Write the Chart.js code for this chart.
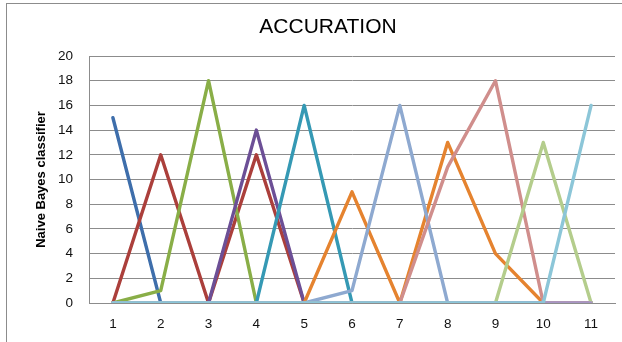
<!DOCTYPE html>
<html>
<head>
<meta charset="utf-8">
<script src="https://cdn.jsdelivr.net/npm/chart.js@4"></script>
<style>
  html, body { margin: 0; padding: 0; background: #fff; overflow: hidden; }
  #wrap { position: relative; width: 622px; height: 342px; overflow: hidden; }
  #frame { position: absolute; left: 6px; top: 3px; width: 700px; height: 400px;
           border: 1px solid #8c8c8c; box-sizing: border-box; }
  canvas { position: absolute; left: 0; top: 0; }
</style>
</head>
<body>
<div id="wrap">
  <div id="frame"></div>
  <canvas id="chart" width="622" height="342"></canvas>
</div>
<script>
// Categories on the x axis
const categories = ['1', '2', '3', '4', '5', '6', '7', '8', '9', '10', '11'];

// One series per classifier run
const series1  = [15, 0, 0, 0, 0, 0, 0, 0, 0, 0, 0];
const series2  = [0, 12, 0, 12, 0, 0, 0, 0, 0, 0, 0];
const series3  = [0, 1, 18, 0, 0, 0, 0, 0, 0, 0, 0];
const series4  = [0, 0, 0, 14, 0, 0, 0, 0, 0, 0, 0];
const series5  = [0, 0, 0, 0, 16, 0, 0, 0, 0, 0, 0];
const series6  = [0, 0, 0, 0, 0, 9, 0, 13, 4, 0, 0];
const series7  = [0, 0, 0, 0, 0, 1, 16, 0, 0, 0, 0];
const series8  = [0, 0, 0, 0, 0, 0, 0, 11, 18, 0, 0];
const series9  = [0, 0, 0, 0, 0, 0, 0, 0, 0, 13, 0];
const series10 = [0, 0, 0, 0, 0, 0, 0, 0, 0, 0, 0];
const series11 = [0, 0, 0, 0, 0, 0, 0, 0, 0, 0, 16];

// Value axis range
const yMin = 0;
const yMax = 20;
const yStep = 2;

const allSeries = [series1, series2, series3, series4, series5, series6,
                   series7, series8, series9, series10, series11];
const colors = ['#3E6EAB', '#AB3F3B', '#89AE47', '#6C4F96', '#3599B4', '#E5832F',
                '#8EA9D0', '#D08E8C', '#B4CD8C', '#A796C4', '#8CC6D8'];

const datasets = allSeries.map((data, i) => ({
  label: 'Series ' + (i + 1),
  data: data,
  borderColor: colors[i],
  backgroundColor: colors[i],
  borderWidth: 3.4,
  borderJoinStyle: 'round',
  borderCapStyle: 'round',
  pointRadius: 0,
  pointHoverRadius: 0,
  tension: 0,
  fill: false,
  // later series are painted over earlier ones
  order: allSeries.length - i
}));

const grey = '#8c8c8c';

new Chart(document.getElementById('chart'), {
  type: 'line',
  data: { labels: categories, datasets: datasets },
  options: {
    responsive: false,
    animation: false,
    devicePixelRatio: 1,
    layout: { padding: { left: 41, right: 7, top: 0, bottom: 0 } },
    plugins: {
      legend: { display: false },
      tooltip: { enabled: false },
      title: {
        display: true,
        text: 'ACCURATION',
        color: '#000',
        font: { family: 'Liberation Sans', size: 21, weight: 'normal', lineHeight: 1.2 },
        padding: { top: 14.5, bottom: 16.3 }
      }
    },
    scales: {
      x: {
        offset: true,
        grid: { display: false, drawTicks: false },
        border: { display: true, color: grey, width: 1 },
        ticks: {
          color: '#111',
          padding: 13,
          maxRotation: 0,
          font: { family: 'Liberation Sans', size: 13.5 }
        },
        afterFit: (scale) => { scale.height = 39; }
      },
      y: {
        min: yMin,
        max: yMax,
        ticks: {
          stepSize: yStep,
          color: '#111',
          padding: 16,
          font: { family: 'Liberation Sans', size: 13.5 }
        },
        grid: { color: grey, lineWidth: 1, drawTicks: false },
        border: { display: true, color: grey, width: 1 },
        title: {
          display: true,
          text: 'Naive Bayes classifier',
          color: '#000',
          font: { family: 'Liberation Sans', size: 13, weight: 'bold', lineHeight: 1.2 },
          padding: { top: -7.8, bottom: 0 }
        },
        afterFit: (scale) => { scale.width = 48; }
      }
    }
  }
});
</script>
</body>
</html>
